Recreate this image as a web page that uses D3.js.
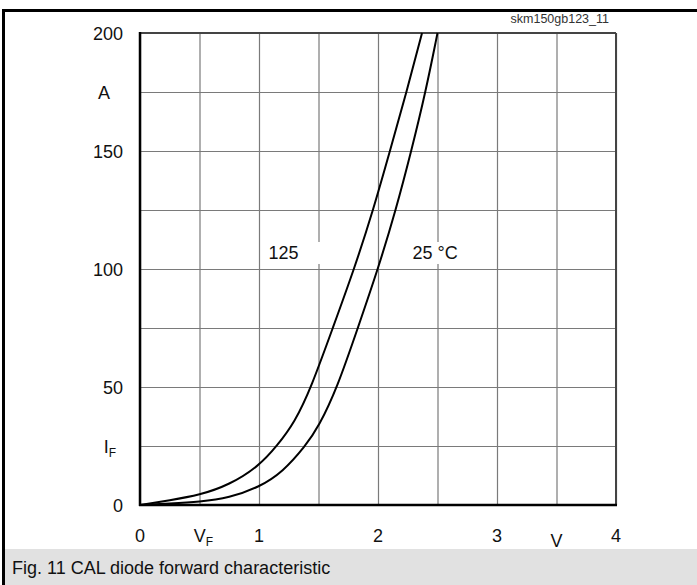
<!DOCTYPE html>
<html>
<head>
<meta charset="utf-8">
<script src="https://cdn.jsdelivr.net/npm/d3@7"></script>
<style>
  body { margin: 0; background: #fff; }
  svg { display: block; font-family: Arial, "Liberation Sans", sans-serif; }
</style>
</head>
<body>
<div id="chart"></div>
<script>
// forward characteristic
var hotV = [0, 0.25, 0.5, 0.75, 1.0, 1.15, 1.3, 1.44, 1.62, 1.80, 1.96, 2.10, 2.24, 2.37]
var hotI = [0, 2, 4.2, 8.5, 16.5, 25, 35, 50, 75, 100, 125, 150, 175, 200]
var coldV = [0, 0.25, 0.5, 0.75, 1.0, 1.2, 1.39, 1.5, 1.66, 1.83, 2.0, 2.15, 2.28, 2.40, 2.50]
var coldI = [0, 0.6, 1.3, 3, 7.5, 14, 25, 33, 50, 75, 100, 125, 150, 175, 200]

var xTicks = [0, 0.5, 1, 1.5, 2, 2.5, 3, 3.5, 4]
var xTickLabels = ["0", "V|F", "1", "", "2", "", "3", "V", "4"]
var yTicks = [0, 25, 50, 75, 100, 125, 150, 175, 200]
var yTickLabels = ["0", "I|F", "50", "", "100", "", "150", "A", "200"]

var curveLabels = [
    { text: "125", v: 1.08, i: 107 },
    { text: "25 °C", v: 2.29, i: 107 }
]

var W = 697, H = 585
var svg = d3.select("#chart").append("svg").attr("width", W).attr("height", H)

var x = d3.scaleLinear().domain([0, 4]).range([140, 616])
var y = d3.scaleLinear().domain([0, 200]).range([505, 33])

// outer frame
svg.append("line").attr("x1", 3.5).attr("x2", 3.5).attr("y1", 9).attr("y2", H)
    .attr("stroke", "#000").attr("stroke-width", 3)
svg.append("line").attr("x1", 2).attr("x2", W).attr("y1", 10.5).attr("y2", 10.5)
    .attr("stroke", "#000").attr("stroke-width", 3)

svg.append("text").attr("x", 609).attr("y", 23).attr("text-anchor", "end")
    .attr("font-size", 12.5).attr("fill", "#333").text("skm150gb123_11")

// grid
svg.append("g").attr("transform", `translate(0,${y(0)})`)
    .call(d3.axisBottom(x).tickValues(xTicks).tickSize(-(y(0) - y(200))).tickFormat(""))
    .call(g => g.select(".domain").remove())
    .selectAll("line").attr("stroke", "#7a7a7a").attr("stroke-width", 1.2)
svg.append("g").attr("transform", `translate(${x(0)},0)`)
    .call(d3.axisLeft(y).tickValues(yTicks).tickSize(-(x(4) - x(0))).tickFormat(""))
    .call(g => g.select(".domain").remove())
    .selectAll("line").attr("stroke", "#7a7a7a").attr("stroke-width", 1.2)

// frame of plot
svg.append("line").attr("x1", x(0)).attr("x2", x(4)).attr("y1", y(200)).attr("y2", y(200))
    .attr("stroke", "#444").attr("stroke-width", 2)
svg.append("line").attr("x1", x(4)).attr("x2", x(4)).attr("y1", y(200)).attr("y2", y(0))
    .attr("stroke", "#444").attr("stroke-width", 2)
svg.append("line").attr("x1", x(0)).attr("x2", x(0)).attr("y1", y(200) - 1).attr("y2", y(0) + 1)
    .attr("stroke", "#000").attr("stroke-width", 2.5)
svg.append("line").attr("x1", x(0) - 1).attr("x2", x(4) + 1).attr("y1", y(0)).attr("y2", y(0))
    .attr("stroke", "#000").attr("stroke-width", 2.5)

// tick labels
function label(sel, s) {
    var parts = s.split("|")
    sel.text(parts[0])
    if (parts[1]) sel.append("tspan").attr("font-size", 12).attr("dy", 4).text(parts[1])
}
svg.append("g").selectAll("text").data(xTicks).enter().append("text")
    .attr("x", d => x(d) + (d == 0.5 ? 4 : 0))
    .attr("y", d => d == 3.5 ? 547 : 542)
    .attr("text-anchor", "middle").attr("font-size", 18).attr("fill", "#111")
    .each(function (d, k) { label(d3.select(this), xTickLabels[k]) })
svg.append("g").selectAll("text").data(yTicks).enter().append("text")
    .attr("x", d => d == 175 ? 110 : d == 25 ? 116 : 123)
    .attr("y", d => y(d) + 6.5)
    .attr("text-anchor", "end").attr("font-size", 18).attr("fill", "#111")
    .each(function (d, k) { label(d3.select(this), yTickLabels[k]) })

// curve labels on white boxes
var lab = svg.append("g").selectAll("g").data(curveLabels).enter().append("g")
lab.append("rect").attr("fill", "#fff")
lab.append("text").attr("x", d => x(d.v)).attr("y", d => y(d.i) + 6.5)
    .attr("font-size", 18).attr("fill", "#111")
    .text(d => d.text)
lab.each(function () {
    var b = d3.select(this).select("text").node().getBBox()
    d3.select(this).select("rect").attr("x", b.x - 5).attr("y", b.y - 1)
        .attr("width", 58).attr("height", b.height + 2)
})

// curves
var line = d3.line().x(d => x(d[0])).y(d => y(d[1])).curve(d3.curveBasis)
var series = [d3.zip(hotV, hotI), d3.zip(coldV, coldI)]
svg.append("g").selectAll("path").data(series).enter().append("path")
    .attr("d", line).attr("fill", "none").attr("stroke", "#000").attr("stroke-width", 2)

// caption
svg.append("rect").attr("x", 5).attr("y", 549).attr("width", W - 5).attr("height", H - 549)
    .attr("fill", "#e1e1e1")
svg.append("text").attr("x", 12).attr("y", 574).attr("font-size", 18).attr("fill", "#111")
    .text("Fig. 11 CAL diode forward characteristic")
</script>
</body>
</html>
